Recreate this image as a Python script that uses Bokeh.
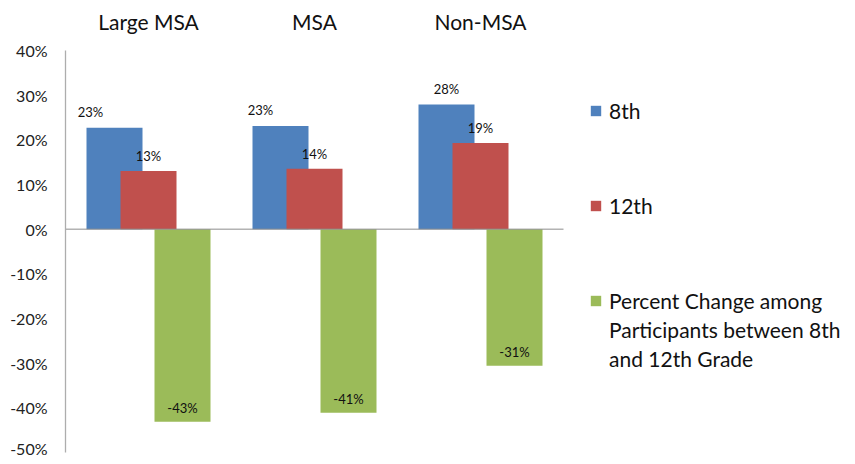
import numpy as np
from bokeh.plotting import figure
from bokeh.layouts import row, column
from bokeh.models import (ColumnDataSource, Legend, LegendItem, Range1d, Spacer,
                          NumeralTickFormatter, FixedTicker, LinearAxis)
from bokeh.core.properties import value
from bokeh.embed import file_html
from bokeh.resources import INLINE

# ---- data ----
categories = ["Large MSA", "MSA", "Non-MSA"]
grade8 = [0.227, 0.231, 0.279]
grade12 = [0.130, 0.135, 0.193]
pct_change = [-0.431, -0.411, -0.306]
series_names = ["8th", "12th", "Percent Change among",
                "Participants between 8th", "and 12th Grade"]
y_ticks = [-0.5, -0.4, -0.3, -0.2, -0.1, 0.0, 0.1, 0.2, 0.3, 0.4]

# ---- style ----
FONT = "Lato"
BLUE, RED, GREEN = "#4F81BD", "#C0504D", "#9BBB59"
GROUP_PX = 166          # pixel width of one category slot
FRAME_W, FRAME_H = 781, 402
OFF = 34 / GROUP_PX     # bar offset within a group
BW = 56 / GROUP_PX      # bar width
blue_label_shift = [-24, -20, 0]

def fmt(v):
    return f"{round(v * 100)}%"

idx = np.arange(len(categories)) + 0.5

src = ColumnDataSource(dict(
    x8=idx - OFF, x12=idx, xc=idx + OFF,
    g8=grade8, g12=grade12, chg=pct_change,
    l8=[fmt(v) for v in grade8], l12=[fmt(v) for v in grade12],
    lchg=[fmt(v) for v in pct_change], sh=blue_label_shift,
))

p = figure(x_range=Range1d(0, FRAME_W / GROUP_PX), y_range=Range1d(-0.5, 0.4),
           frame_width=FRAME_W, frame_height=FRAME_H,
           output_backend="svg", toolbar_location=None,
           x_axis_location="above")
p.outline_line_color = None
p.grid.visible = False

r8 = p.vbar(x="x8", top="g8", width=BW, source=src, fill_color=BLUE, line_color=None)
r12 = p.vbar(x="x12", top="g12", width=BW, source=src, fill_color=RED, line_color=None)
rc = p.vbar(x="xc", top="chg", width=BW, source=src, fill_color=GREEN, line_color=None)

# zero line across the category slots only
p.segment(x0=[0], x1=[len(categories)], y0=[0], y1=[0],
          line_color="#8C8C8C", line_width=1)

common = dict(source=src, text_font=value(FONT), text_font_size="13px",
              text_color="#111111", text_align="center", text_baseline="middle")
p.text(x="x8", y="g8", text="l8", x_offset="sh", y_offset=-16, **common)
p.text(x="x12", y="g12", text="l12", y_offset=-15, **common)
p.text(x="xc", y="chg", text="lchg", y_offset=-14, **common)

# y axis
yax = p.yaxis[0]
yax.ticker = FixedTicker(ticks=y_ticks)
yax.formatter = NumeralTickFormatter(format="0%")
yax.major_tick_line_color = None
yax.minor_tick_line_color = None
yax.major_tick_out = 0
yax.major_tick_in = 0
yax.minor_tick_out = 0
yax.axis_line_color = "#ADADAD"
yax.axis_line_width = 1.3
yax.major_label_text_font = FONT
yax.major_label_text_font_size = "16px"
yax.major_label_text_color = "#222222"
yax.major_label_standoff = 18

# category labels on top
xax = p.xaxis[0]
xax.ticker = FixedTicker(ticks=list(idx))
xax.major_label_overrides = {float(v): c for v, c in zip(idx, categories)}
xax.axis_line_color = None
xax.major_tick_line_color = None
xax.minor_tick_line_color = None
xax.major_tick_out = 0
xax.major_tick_in = 0
xax.minor_tick_out = 0
xax.major_label_text_font = FONT
xax.major_label_text_font_size = "21px"
xax.major_label_text_color = "#111111"
xax.major_label_standoff = 17

# empty bottom strip so the lowest tick label is not cut off
pad = LinearAxis(ticker=FixedTicker(ticks=[]), axis_line_color=None,
                 major_tick_line_color=None, minor_tick_line_color=None,
                 major_tick_out=3, major_tick_in=0, minor_tick_out=0)
p.add_layout(pad, "below")

# invisible helper glyphs for the continuation lines of the third legend entry
blank = p.vbar(x=[], top=[], width=BW, fill_alpha=0, line_alpha=0)

leg_style = dict(margin=0, padding=0, border_line_color=None,
                 background_fill_alpha=0, glyph_width=13, glyph_height=13,
                 label_height=20, label_standoff=7, label_text_font=FONT,
                 label_text_font_size="21px", label_text_color="#111111")

legend_a = Legend(items=[LegendItem(label=series_names[0], renderers=[r8]),
                         LegendItem(label=series_names[1], renderers=[r12])],
                  location=(524, 234), spacing=70, **leg_style)
legend_b = Legend(items=[LegendItem(label=series_names[2], renderers=[rc]),
                         LegendItem(label=series_names[3], renderers=[blank]),
                         LegendItem(label=series_names[4], renderers=[blank])],
                  location=(524, 81), spacing=4, **leg_style)
p.add_layout(legend_a)
p.add_layout(legend_b)

layout = column(Spacer(height=5), row(Spacer(width=7), p))

open("out.html", "w").write(file_html(layout, INLINE))
